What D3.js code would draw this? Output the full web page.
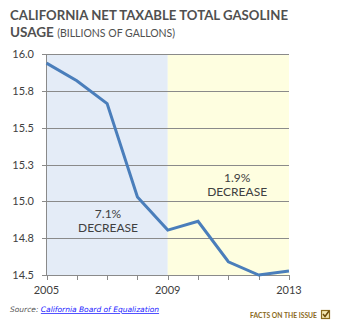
<!DOCTYPE html>
<html><head><meta charset="utf-8">
<script src="https://cdn.jsdelivr.net/npm/d3@7"></script>
<style>body{margin:0;background:#fff;} svg{display:block;}</style>
</head><body>
<script>
const years = [2005,2006,2007,2008,2009,2010,2011,2012,2013];
const usage = [15.94,15.82,15.665,15.03,14.805,14.865,14.59,14.50,14.527];
const yTicks = [14.5,14.75,15.0,15.25,15.5,15.75,16.0];
const xLabels = [2005,2009,2013];
const periods = [{from:2005,to:2009,label:["7.1%","DECREASE"],color:"#e4ecf7",at:[2007.03,14.885]},
                 {from:2009,to:2013,label:["1.9%","DECREASE"],color:"#fefee0",at:[2011.29,15.135]}];

const W=337,H=325;
const svg=d3.select("body").append("svg").attr("width",W).attr("height",H);
const x=d3.scaleLinear().domain([2005,2013]).range([46.5,289]);
const y=d3.scaleLinear().domain([14.5,16.0]).range([275,54.3]);
const font="Lato, 'Open Sans', sans-serif";

// title
const t=svg.append("text").attr("x",10).attr("y",20).attr("font-family",font).attr("font-weight","bold").attr("font-size",13.5).attr("fill","#505050");
t.text("CALIFORNIA NET TAXABLE TOTAL GASOLINE").attr("textLength",278).attr("lengthAdjust","spacingAndGlyphs");
const t2=svg.append("text").attr("x",10).attr("y",37).attr("font-family",font).attr("fill","#505050");
t2.append("tspan").attr("font-weight","bold").attr("font-size",13.5).text("USAGE ");
t2.append("tspan").attr("font-size",10.5).text("(BILLIONS OF GALLONS)");

// shaded periods
periods.forEach(p=>{
  svg.append("rect").attr("x",x(p.from)).attr("y",y(16)).attr("width",x(p.to)-x(p.from)).attr("height",y(14.5)-y(16)).attr("fill",p.color);
});

// grid
svg.append("g").selectAll("line").data(yTicks).join("line")
  .attr("x1",42).attr("x2",289).attr("y1",d=>Math.round(y(d))+0.5).attr("y2",d=>Math.round(y(d))+0.5)
  .attr("stroke","#8a8a8a").attr("stroke-width",1);
// y axis line
svg.append("line").attr("x1",46.5).attr("x2",46.5).attr("y1",y(16)).attr("y2",y(14.5)).attr("stroke","#8a8a8a");
// x ticks
svg.append("g").selectAll("line").data(years).join("line")
  .attr("x1",d=>Math.round(x(d))+0.5).attr("x2",d=>Math.round(x(d))+0.5).attr("y1",275).attr("y2",280)
  .attr("stroke","#8a8a8a");

// y labels
svg.append("g").selectAll("text").data(yTicks).join("text")
  .attr("x",34).attr("y",d=>y(d)+4).attr("text-anchor","end").attr("font-family",font).attr("font-size",11).attr("fill","#404040")
  .text(d=>d3.format(".1f")(Math.round(d*10+1e-9)/10));
// x labels
svg.append("g").selectAll("text").data(xLabels).join("text")
  .attr("x",d=>x(d)).attr("y",294).attr("text-anchor","middle").attr("font-family",font).attr("font-size",11).attr("fill","#404040").text(d=>d);

// period annotations
periods.forEach(p=>{
  const g=svg.append("text").attr("text-anchor","middle").attr("font-family",font).attr("font-size",12).attr("fill","#404040");
  p.label.forEach((s,i)=>g.append("tspan").attr("x",x(p.at[0])).attr("y",y(p.at[1])+i*14).text(s));
});

// line
svg.append("path").datum(years.map((d,i)=>[d,usage[i]]))
  .attr("d",d3.line().x(d=>x(d[0])).y(d=>y(d[1])))
  .attr("fill","none").attr("stroke","#4a7ebb").attr("stroke-width",3).attr("stroke-linejoin","miter");

// source
const s=svg.append("text").attr("x",10).attr("y",312).attr("font-family","'DejaVu Sans', sans-serif").attr("font-style","italic").attr("font-size",7.5);
s.append("tspan").attr("fill","#555").text("Source: ");
s.append("tspan").attr("fill","#1a1aff").attr("text-decoration","underline").text("California Board of Equalization");

// facts on the issue
svg.append("text").attr("x",250).attr("y",318).attr("font-family",font).attr("font-weight","bold").attr("font-size",6.5).attr("fill","#8a6a1a")
  .attr("textLength",67).attr("lengthAdjust","spacingAndGlyphs").text("FACTS ON THE ISSUE");
svg.append("rect").attr("x",321.5).attr("y",310.5).attr("width",8).attr("height",8).attr("fill","#f3e7b0").attr("stroke","#8a6a1a").attr("stroke-width",1.2);
svg.append("path").attr("d","M323,314 L325,316.5 L329,311").attr("fill","none").attr("stroke","#6a4a0a").attr("stroke-width",1.5);
</script>
</body></html>
